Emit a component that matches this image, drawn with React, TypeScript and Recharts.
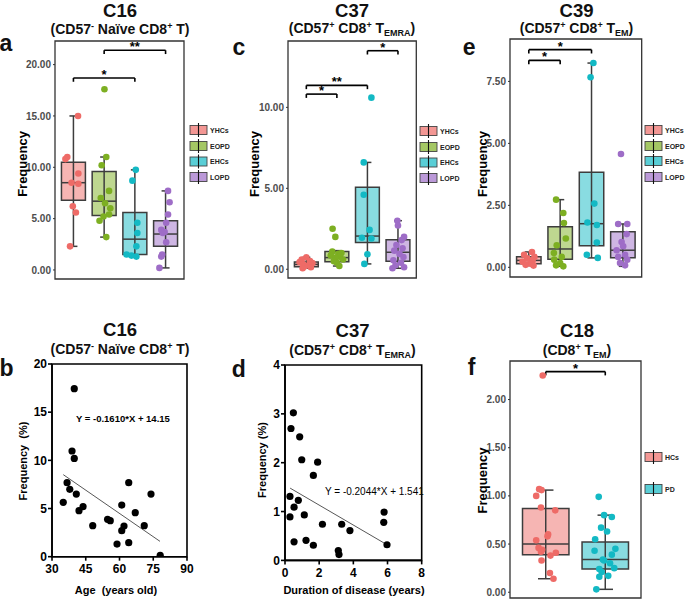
import React from "react";
import {
  ComposedChart,
  ScatterChart,
  Scatter,
  XAxis,
  YAxis,
  ReferenceArea,
  ReferenceLine,
} from "recharts";

const FONT = '"Liberation Sans", Arial, sans-serif';
const EDGE = "#3d3d3d";

const RED = "#EE6B67";
const GREEN = "#7DAF22";
const CYAN = "#13B9C4";
const PURPLE = "#9E6DC7";

// ---- a: C16 by group
const c16Groups = ["YHCs", "EOPD", "EHCs", "LOPD"];
const c16Values = [
  [15.0, 11.0, 10.8, 9.4, 8.5, 8.4, 6.2, 5.6, 2.3],
  [17.6, 11.0, 10.2, 7.7, 7.0, 6.5, 6.0, 5.4, 5.2, 4.8, 3.2],
  [9.75, 8.7, 4.6, 3.6, 2.3, 1.5, 1.4, 1.3],
  [7.7, 6.6, 5.4, 4.6, 3.9, 3.7, 3.6, 2.7, 1.5, 1.3, 0.2],
];
const c16Jitter = [
  [0.15, -0.2, -0.26, 0.16, -0.06, 0.16, -0.02, 0.08, -0.11],
  [0.01, 0.07, -0.08, 0.16, -0.11, 0.03, 0.2, 0.16, -0.02, -0.15, 0.07],
  [0.03, -0.08, 0.08, 0.08, 0.05, -0.27, -0.11, 0.05],
  [0.08, 0.13, 0.08, 0.02, -0.14, -0.03, -0.09, 0.02, -0.11, -0.14, -0.2],
];
// [lower whisker, q1, median, q3, upper whisker]
const c16Stats = [
  [2.3, 6.8, 8.5, 10.5, 15.0],
  [3.2, 5.3, 6.7, 9.6, 11.0],
  [1.3, 1.5, 3.0, 5.6, 9.75],
  [0.2, 2.3, 3.5, 4.8, 7.7],
];
const c16Signif = [
  { from: 1, to: 3, y: 18.7, label: "*" },
  { from: 2, to: 4, y: 21.4, label: "**" },
];
const c16Ticks = [0, 5, 10, 15, 20];

// ---- c: C37 by group
const c37Values = [
  [0.74, 0.6, 0.5, 0.45, 0.38, 0.3, 0.25, 0.18, 0.12, 0.06],
  [2.5, 2.0, 1.1, 1.0, 0.95, 0.85, 0.78, 0.7, 0.6, 0.5, 0.4, 0.2],
  [10.6, 6.6, 4.6, 2.43, 1.95, 1.9, 0.93, 0.33],
  [3.0, 2.7, 2.0, 1.8, 1.5, 1.3, 1.15, 0.95, 0.75, 0.55, 0.4, 0.25, 0.12, 0.06],
];
const c37Jitter = [
  [0.0, -0.15, 0.12, -0.22, 0.2, -0.1, 0.08, -0.05, 0.15, -0.12],
  [-0.14, -0.05, -0.15, 0.15, 0.05, -0.2, 0.1, -0.05, 0.2, -0.1, 0.0, 0.08],
  [0.13, -0.12, -0.12, 0.07, -0.18, 0.13, 0.0, -0.1],
  [-0.02, 0.0, 0.2, 0.12, -0.05, 0.15, -0.12, 0.05, 0.18, -0.15, 0.1, -0.08, 0.2, -0.18],
];
const c37Stats = [
  [0.06, 0.16, 0.3, 0.45, 0.74],
  [0.2, 0.47, 0.72, 1.1, 1.15],
  [0.33, 1.65, 2.05, 5.06, 6.6],
  [0.06, 0.5, 1.05, 1.82, 3.0],
];
const c37Signif = [
  { from: 1, to: 2, y: 10.82, label: "*" },
  { from: 1, to: 3, y: 11.36, label: "**" },
  { from: 3, to: 4, y: 13.5, label: "*" },
];
const c37Ticks = [0, 5, 10];

// ---- e: C39 by group
const c39Values = [
  [0.62, 0.51, 0.42, 0.36, 0.28, 0.22, 0.15, 0.1, 0.07],
  [2.73, 2.19, 1.79, 1.16, 0.89, 0.58, 0.42, 0.31, 0.17, 0.08, 0.04],
  [8.24, 7.67, 2.57, 1.81, 1.71, 1.0, 0.51, 0.38],
  [4.57, 1.75, 1.75, 1.34, 1.02, 0.85, 0.69, 0.51, 0.42, 0.31, 0.17, 0.08],
];
const c39Jitter = [
  [0.1, -0.15, 0.18, -0.05, 0.12, -0.2, 0.05, -0.1, 0.15],
  [-0.13, 0.1, 0.12, 0.18, -0.11, -0.2, 0.05, -0.19, 0.0, -0.13, 0.1],
  [0.06, -0.03, 0.09, -0.13, 0.17, 0.17, -0.15, 0.2],
  [-0.06, -0.15, 0.14, 0.12, -0.04, 0.01, -0.2, 0.07, -0.15, 0.14, -0.09, 0.07],
];
const c39Stats = [
  [0.07, 0.14, 0.28, 0.43, 0.62],
  [0.04, 0.33, 0.74, 1.64, 2.73],
  [0.38, 0.87, 1.76, 3.84, 8.24],
  [0.04, 0.39, 0.69, 1.43, 1.75],
];
const c39Signif = [
  { from: 1, to: 2, y: 8.35, label: "*" },
  { from: 1, to: 3, y: 8.78, label: "*" },
];
const c39Ticks = [0, 2.5, 5, 7.5];

// ---- f: C18 HCs vs PD
const c18Groups = ["HCs", "PD"];
const c18Values = [
  [2.25, 1.07, 1.06, 1.0, 0.88, 0.85, 0.6, 0.58, 0.54, 0.46, 0.44, 0.42, 0.41, 0.38, 0.33, 0.2, 0.14],
  [0.99, 0.8, 0.78, 0.67, 0.63, 0.55, 0.45, 0.43, 0.39, 0.34, 0.33, 0.3, 0.25, 0.24, 0.21, 0.17, 0.16, 0.03],
];
const c18Jitter = [
  [-0.05, -0.11, -0.07, -0.16, -0.08, 0.16, 0.04, 0.03, -0.16, -0.12, -0.06, -0.08, 0.17, 0.08, -0.07, 0.07, 0.13],
  [-0.11, -0.02, 0.11, -0.07, 0.03, -0.17, 0.17, -0.18, 0.11, -0.04, -0.02, 0.08, 0.15, -0.1, -0.06, 0.05, -0.1, -0.15],
];
const c18Stats = [
  [0.14, 0.39, 0.5, 0.87, 1.06],
  [0.03, 0.24, 0.34, 0.52, 0.8],
];
const c18Signif = [{ from: 1, to: 2, y: 2.29, label: "*" }];
const c18Ticks = [0, 0.5, 1, 1.5, 2];

// ---- b: C16 vs age
const ageX = [35, 36.7, 37.9, 38.9, 39.9, 39.9, 40.8, 42, 43.8, 48.1, 54.7, 55.9, 58.9, 61, 61, 62, 64.1, 64.1, 67, 71, 74, 78.1];
const ageY = [5.64, 7.68, 6.99, 10.97, 10.2, 17.44, 6.5, 4.78, 5.19, 3.22, 3.88, 3.74, 1.31, 5.36, 2.7, 3.18, 7.68, 1.45, 4.57, 3.22, 6.5, 0.14];
const ageFit = { slope: -0.161, intercept: 14.15, from: 35, to: 78 };

// ---- d: C37 vs disease duration
const durX = [0.29, 0.29, 0.35, 0.49, 0.53, 0.53, 0.78, 0.86, 0.98, 1.13, 1.23, 1.66, 1.66, 1.91, 2.19, 3.32, 3.12, 3.16, 3.8, 5.8, 5.78, 5.97];
const durY = [0.89, 1.31, 2.7, 3.02, 1.09, 0.38, 1.23, 2.53, 2.06, 0.93, 0.41, 1.74, 0.31, 2.01, 0.74, 0.74, 0.2, 0.12, 0.61, 0.99, 0.78, 0.32];
const durFit = { slope: -0.2044, intercept: 1.541, from: 0.3, to: 6 };

function BoxPanel({ values, jitter, stats, signif, ticks, domain, colors, plot }: any) {
  const yw = 50;
  const n = values.length;
  const xDomain = [0.4, n + 0.6];
  const hook = (domain[1] - domain[0]) * 0.016;
  const half = 0.39;
  const cap = 0.13;
  return (
    <div style={{ position: "absolute", left: plot.x - yw, top: plot.y - 10 }}>
      <ComposedChart
        width={plot.w + yw + 10}
        height={plot.h + 20}
        margin={{ top: 10, right: 10, bottom: 10, left: 0 }}
        style={{ overflow: "visible" }}
      >
        <XAxis type="number" dataKey="x" domain={xDomain} allowDataOverflow hide />
        <YAxis
          type="number"
          dataKey="y"
          domain={domain}
          allowDataOverflow
          ticks={ticks}
          interval={0}
          width={yw}
          axisLine={false}
          tickLine={{ stroke: "#333" }}
          tickSize={2}
          tickMargin={2}
          tickFormatter={(v: number) => v.toFixed(2)}
          tick={{ fill: "#4d4d4d", fontSize: 10, fontWeight: "bold", fontFamily: FONT }}
        />
        {stats.map((s: number[], g: number) => (
          <ReferenceLine
            key={"w" + g}
            segment={[{ x: g + 1, y: s[0] }, { x: g + 1, y: s[4] }]}
            stroke={EDGE}
            strokeWidth={1.5}
          />
        ))}
        {stats.flatMap((s: number[], g: number) => [
          <ReferenceLine
            key={"cl" + g}
            segment={[{ x: g + 1 - cap, y: s[0] }, { x: g + 1 + cap, y: s[0] }]}
            stroke={EDGE}
            strokeWidth={1.5}
          />,
          <ReferenceLine
            key={"cu" + g}
            segment={[{ x: g + 1 - cap, y: s[4] }, { x: g + 1 + cap, y: s[4] }]}
            stroke={EDGE}
            strokeWidth={1.5}
          />,
        ])}
        {stats.map((s: number[], g: number) => (
          <ReferenceArea
            key={"b" + g}
            x1={g + 1 - half}
            x2={g + 1 + half}
            y1={s[1]}
            y2={s[3]}
            fill={colors[g]}
            fillOpacity={0.5}
            stroke={EDGE}
            strokeWidth={1.5}
          />
        ))}
        {stats.map((s: number[], g: number) => (
          <ReferenceLine
            key={"m" + g}
            segment={[{ x: g + 1 - half, y: s[2] }, { x: g + 1 + half, y: s[2] }]}
            stroke={EDGE}
            strokeWidth={1.5}
          />
        ))}
        {values.map((vals: number[], g: number) => (
          <Scatter
            key={"p" + g}
            data={vals.map((v, k) => ({ x: g + 1 + jitter[g][k], y: v }))}
            isAnimationActive={false}
            shape={(p: any) => <circle cx={p.cx} cy={p.cy} r={3.3} fill={colors[g]} />}
          />
        ))}
        {signif.flatMap((s: any, i: number) => [
          <ReferenceLine
            key={"sh" + i}
            segment={[{ x: s.from, y: s.y }, { x: s.to, y: s.y }]}
            stroke="#000"
            strokeWidth={1.6}
          />,
          <ReferenceLine
            key={"sl" + i}
            segment={[{ x: s.from, y: s.y }, { x: s.from, y: s.y - hook }]}
            stroke="#000"
            strokeWidth={1.6}
          />,
          <ReferenceLine
            key={"sr" + i}
            segment={[{ x: s.to, y: s.y }, { x: s.to, y: s.y - hook }]}
            stroke="#000"
            strokeWidth={1.6}
          />,
        ])}
        {signif.map((s: any, i: number) => (
          <Scatter
            key={"st" + i}
            data={[{ x: (s.from + s.to) / 2, y: s.y }]}
            isAnimationActive={false}
            shape={(p: any) => (
              <text
                x={p.cx}
                y={p.cy + 1}
                textAnchor="middle"
                fontSize={13}
                fontWeight="bold"
                fontFamily={FONT}
                fill="#000"
              >
                {s.label}
              </text>
            )}
          />
        ))}
        <ReferenceArea
          x1={xDomain[0]}
          x2={xDomain[1]}
          y1={domain[0]}
          y2={domain[1]}
          fill="none"
          stroke="#333"
          strokeWidth={1.3}
        />
      </ComposedChart>
    </div>
  );
}

function ScatterPanel({ xs, ys, xDomain, xTicks, yDomain, yTicks, fit, plot }: any) {
  const yw = 40;
  const axisProps = {
    axisLine: { stroke: "#000", strokeWidth: 1.6 },
    tickLine: { stroke: "#000", strokeWidth: 1.6 },
    tickSize: 4,
    tick: { fill: "#000", fontSize: 12, fontWeight: "bold", fontFamily: FONT },
  };
  return (
    <div style={{ position: "absolute", left: plot.x - yw, top: plot.y - 10 }}>
      <ScatterChart
        width={plot.w + yw + 10}
        height={plot.h + 40}
        margin={{ top: 10, right: 10, bottom: 0, left: 0 }}
        style={{ overflow: "visible" }}
      >
        <XAxis
          type="number"
          dataKey="x"
          domain={xDomain}
          ticks={xTicks}
          interval={0}
          allowDataOverflow
          height={30}
          tickMargin={4}
          {...axisProps}
        />
        <YAxis
          type="number"
          dataKey="y"
          domain={yDomain}
          ticks={yTicks}
          interval={0}
          allowDataOverflow
          width={yw}
          tickMargin={1}
          {...axisProps}
        />
        <ReferenceArea
          x1={xDomain[0]}
          x2={xDomain[1]}
          y1={yDomain[0]}
          y2={yDomain[1]}
          fill="none"
          stroke="#000"
          strokeWidth={1.6}
        />
        <Scatter
          data={xs.map((x: number, i: number) => ({ x, y: ys[i] }))}
          isAnimationActive={false}
          shape={(p: any) => <circle cx={p.cx} cy={p.cy} r={3.6} fill="#000" />}
        />
        <ReferenceLine
          segment={[
            { x: fit.from, y: fit.intercept + fit.slope * fit.from },
            { x: fit.to, y: fit.intercept + fit.slope * fit.to },
          ]}
          stroke="#444"
          strokeWidth={0.9}
        />
      </ScatterChart>
    </div>
  );
}

type Part = { t: string; s?: "sup" | "sub" };

function Title({ x, y1, y2, title, parts }: { x: number; y1: number; y2: number; title: string; parts: Part[] }) {
  let shift = 0;
  return (
    <g fontFamily={FONT} fontWeight="bold" fill="#111">
      <text x={x} y={y1} textAnchor="middle" fontSize={18.5}>
        {title}
      </text>
      <text x={x} y={y2} textAnchor="middle" fontSize={14} style={{ whiteSpace: "pre" }}>
        {parts.map((p, i) => {
          const target = p.s === "sup" ? -5 : p.s === "sub" ? 3 : 0;
          const dy = target - shift;
          shift = target;
          return (
            <tspan key={i} dy={dy} fontSize={p.s ? 9 : 14}>
              {p.t}
            </tspan>
          );
        })}
      </text>
    </g>
  );
}

function Legend({ x, ys, labels, colors }: any) {
  return (
    <g>
      {labels.map((l: string, i: number) => (
        <g key={l}>
          <rect x={x} y={ys[i] - 4.5} width={17} height={9} fill={colors[i]} fillOpacity={0.7} stroke="#444" strokeWidth={0.9} />
          <line x1={x + 8.5} x2={x + 8.5} y1={ys[i] - 7} y2={ys[i] + 7} stroke="#111" strokeWidth={1.1} />
          <text x={x + 20} y={ys[i] + 2.5} fontSize={7} fontWeight="bold" fontFamily={FONT} fill="#222">
            {l}
          </text>
        </g>
      ))}
    </g>
  );
}

function VLabel({ x, y, text, size }: any) {
  return (
    <text
      x={x}
      y={y}
      transform={`rotate(-90 ${x} ${y})`}
      textAnchor="middle"
      dominantBaseline="central"
      fontSize={size}
      fontWeight="bold"
      fontFamily={FONT}
      fill="#000"
      style={{ whiteSpace: "pre" }}
    >
      {text}
    </text>
  );
}

const fourColors = [RED, GREEN, CYAN, PURPLE];

export default function App() {
  const letter = { fontSize: 23, fontWeight: "bold", fontFamily: FONT, fill: "#111" } as any;
  return (
    <div style={{ position: "absolute", left: 0, top: 0, width: 685, height: 600, background: "#fff", overflow: "hidden" }}>
      <BoxPanel
        values={c16Values}
        jitter={c16Jitter}
        stats={c16Stats}
        signif={c16Signif}
        ticks={c16Ticks}
        domain={[-0.88, 22.3]}
        colors={fourColors}
        plot={{ x: 55, y: 41, w: 129, h: 238 }}
      />
      <BoxPanel
        values={c37Values}
        jitter={c37Jitter}
        stats={c37Stats}
        signif={c37Signif}
        ticks={c37Ticks}
        domain={[-0.54, 14.1]}
        colors={fourColors}
        plot={{ x: 287.7, y: 41, w: 128.3, h: 237 }}
      />
      <BoxPanel
        values={c39Values}
        jitter={c39Jitter}
        stats={c39Stats}
        signif={c39Signif}
        ticks={c39Ticks}
        domain={[-0.39, 9.21]}
        colors={fourColors}
        plot={{ x: 510, y: 39.3, w: 131.7, h: 238 }}
      />
      <BoxPanel
        values={c18Values}
        jitter={c18Jitter}
        stats={c18Stats}
        signif={c18Signif}
        ticks={c18Ticks}
        domain={[-0.06, 2.4]}
        colors={[RED, CYAN]}
        plot={{ x: 510, y: 361, w: 131, h: 237 }}
      />
      <ScatterPanel
        xs={ageX}
        ys={ageY}
        xDomain={[30, 90]}
        xTicks={[30, 45, 60, 75, 90]}
        yDomain={[0, 20]}
        yTicks={[0, 5, 10, 15, 20]}
        fit={ageFit}
        plot={{ x: 51.7, y: 364, w: 135, h: 192.7 }}
      />
      <ScatterPanel
        xs={durX}
        ys={durY}
        xDomain={[0, 8]}
        xTicks={[0, 2, 4, 6, 8]}
        yDomain={[0, 4]}
        yTicks={[0, 1, 2, 3, 4]}
        fit={durFit}
        plot={{ x: 285, y: 365.3, w: 136.7, h: 195.4 }}
      />
      <svg width={685} height={600} style={{ position: "absolute", left: 0, top: 0, pointerEvents: "none" }}>
        <Title x={120} y1={17} y2={33.5} title="C16" parts={[{ t: "(CD57" }, { t: "-", s: "sup" }, { t: " Naïve CD8" }, { t: "+", s: "sup" }, { t: " T)" }]} />
        <Title x={352} y1={17} y2={33} title="C37" parts={[{ t: "(CD57" }, { t: "+", s: "sup" }, { t: " CD8" }, { t: "+", s: "sup" }, { t: " T" }, { t: "EMRA", s: "sub" }, { t: ")" }]} />
        <Title x={576.5} y1={17} y2={33} title="C39" parts={[{ t: "(CD57" }, { t: "+", s: "sup" }, { t: " CD8" }, { t: "+", s: "sup" }, { t: " T" }, { t: "EM", s: "sub" }, { t: ")" }]} />
        <Title x={120} y1={335.7} y2={354} title="C16" parts={[{ t: "(CD57" }, { t: "-", s: "sup" }, { t: " Naïve CD8" }, { t: "+", s: "sup" }, { t: " T)" }]} />
        <Title x={352.5} y1={336.5} y2={355} title="C37" parts={[{ t: "(CD57" }, { t: "+", s: "sup" }, { t: " CD8" }, { t: "+", s: "sup" }, { t: " T" }, { t: "EMRA", s: "sub" }, { t: ")" }]} />
        <Title x={577} y1={336.5} y2={355} title="C18" parts={[{ t: "(CD8" }, { t: "+", s: "sup" }, { t: " T" }, { t: "EM", s: "sub" }, { t: ")" }]} />

        <text x={-0.5} y={50.7} {...letter}>a</text>
        <text x={232.5} y={55} {...letter}>c</text>
        <text x={462.7} y={55} {...letter}>e</text>
        <text x={-0.5} y={376} {...letter}>b</text>
        <text x={231.7} y={377} {...letter}>d</text>
        <text x={467.7} y={375} {...letter}>f</text>

        <VLabel x={22.7} y={164} text="Frequency" size={13} />
        <VLabel x={254.3} y={164} text="Frequency" size={13} />
        <VLabel x={482.3} y={164} text="Frequency" size={13} />
        <VLabel x={482.3} y={480.5} text="Frequency" size={13} />
        <VLabel x={23} y={461} text="Frequency  (%)" size={11} />
        <VLabel x={262.3} y={460} text="Frequency (%)" size={11} />

        <text x={116} y={594} textAnchor="middle" fontSize={11} fontWeight="bold" fontFamily={FONT} style={{ whiteSpace: "pre" }}>
          Age  (years old)
        </text>
        <text x={354} y={594} textAnchor="middle" fontSize={11} fontWeight="bold" fontFamily={FONT}>
          Duration of disease (years)
        </text>
        <text x={76} y={421.5} fontSize={9.5} fontWeight="bold" fontFamily={FONT}>
          Y = -0.1610*X + 14.15
        </text>
        <text x={325} y={494.5} fontSize={10} fontFamily={FONT}>
          Y = -0.2044*X + 1.541
        </text>

        <Legend x={190} ys={[130, 146, 161.5, 177]} labels={c16Groups} colors={fourColors} />
        <Legend x={420} ys={[131, 147, 162.5, 178]} labels={c16Groups} colors={fourColors} />
        <Legend x={645} ys={[130, 146, 161, 177]} labels={c16Groups} colors={fourColors} />
        <Legend x={645} ys={[457, 489]} labels={c18Groups} colors={[RED, CYAN]} />
      </svg>
    </div>
  );
}
